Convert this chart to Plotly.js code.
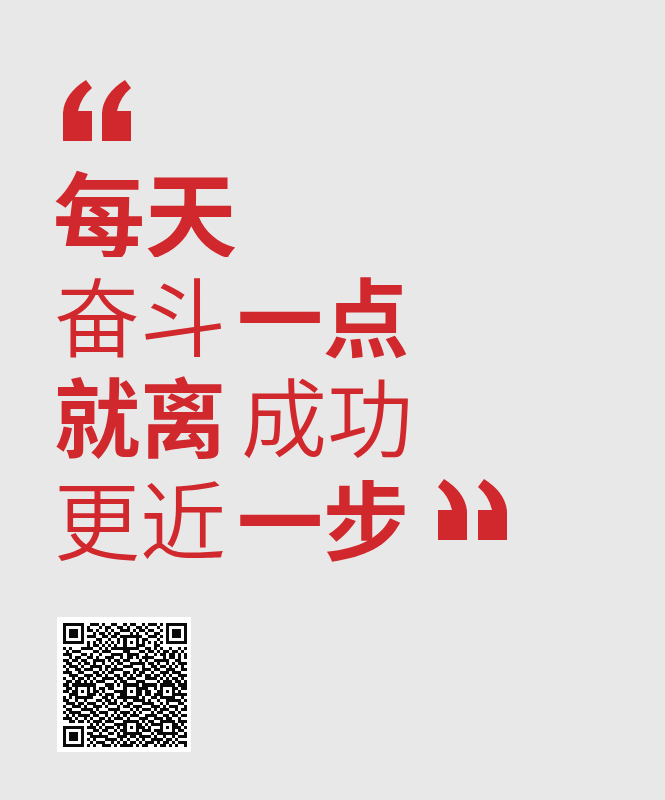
<!DOCTYPE html>
<html>
<head>
<meta charset="utf-8">
<script src="https://cdn.plot.ly/plotly-3.0.1.min.js"></script>
<style>html,body{margin:0;padding:0;background:#e8e8e8;}#chart{width:665px;height:800px;}</style>
</head>
<body>
<div id="chart"></div>
<script>
// ---- content (data) ----
const line1 = ["每天"];
const line2 = ["奋斗", "一点"];
const line3 = ["就离", "成功"];
const line4 = ["更近", "一步"];
const qrSize = 41;
const qrRows = [
"10110010011101001100101100101110100101101",
"01101101100010110011010011010001011010010",
"11000110110100101001110101101100110001011",
"00111011001011010110001010010011001110100",
"10010100111001101101100101001110110100110",
"01101011000110010010011010110001001011011",
"11010101011010101011001110011100110100100",
"00101110101101010100110001100011011011011",
"10100001110010101111001110011010100100101",
"01011110001101110000110001101101011011010",
"11100011010010001111011110010010110110101",
"00101110110100111001011010111100010110101",
"11011001001111010110110001010011111001100",
"01100111101001001011001111101101001010111",
"10111010011110110100111000100110110101010",
"01001101110010101111000110111011001110011",
"11100110001101011000110101100100111011100",
"00111011110110100110101011011011010100111",
"10010100101001111011011100011110101011010",
"01101111010111000101100011100001011101101",
"11010010111000111010011100111110110010111",
"01101110001011011000101101110010110011011",
"11010011101101000111001011011001011010100",
"00111010011010111001110001011011101001111",
"10100101110001101011011100100110110100010",
"11001011000110110100100111101001001111101",
"01110100111001011101011000111100101000110",
"10011101001110100010110111000111010111001",
"01100011110100011110001010111010111001011",
"10111100011011100101110101000101100110100",
"01010111101100101010101110011110011011011",
"11101001010011010111010001110011101100100",
"00110110101110111000101110101100010110111",
"11001010010101000111110001010111101001010",
"01101101111010111010001111101000110111101",
"10110010001101100101110100111011011000110",
"01011011110010011010011011000101101111001",
"11100100011111100011101101111010010010111",
"00011011101000111101010010100111101101000",
"11010110010111001010101101011101011010111",
"01101101101001110101111010110010110101001"
];

// ---- style / layout ----
const RED = "#d0282c";
const BG = "#e8e8e8";
const FONT = "Noto Sans CJK SC";
const FS = 86;

// build QR matrix from typed rows, then stamp the fixed QR structure
const z = [];
for (let r = 0; r < qrSize; r++) {
  const s = (qrRows[r] || "").padEnd(qrSize, "0");
  z.push(s.slice(0, qrSize).split("").map(Number));
}
function finder(r0, c0) {
  for (let r = -1; r <= 7; r++) for (let c = -1; c <= 7; c++) {
    const rr = r0 + r, cc = c0 + c;
    if (rr < 0 || cc < 0 || rr >= qrSize || cc >= qrSize) continue;
    let v = 0;
    if (r >= 0 && r <= 6 && c >= 0 && c <= 6) {
      v = (r === 0 || r === 6 || c === 0 || c === 6 || (r >= 2 && r <= 4 && c >= 2 && c <= 4)) ? 1 : 0;
    }
    z[rr][cc] = v;
  }
}
finder(0, 0); finder(0, qrSize - 7); finder(qrSize - 7, 0);
for (let i = 8; i < qrSize - 8; i++) { z[6][i] = i % 2 === 0 ? 1 : 0; z[i][6] = i % 2 === 0 ? 1 : 0; }
const alignC = [6, 22, 34];
alignC.forEach(ar => alignC.forEach(ac => {
  if ((ar === 6 && ac === 6) || (ar === 6 && ac === 34) || (ar === 34 && ac === 6)) return;
  for (let r = -2; r <= 2; r++) for (let c = -2; c <= 2; c++) {
    z[ar + r][ac + c] = (Math.max(Math.abs(r), Math.abs(c)) !== 1) ? 1 : 0;
  }
}));

const qrX0 = 63, qrY0 = 623, qrW = 124;
const cell = qrW / qrSize;

const trace = {
  type: "heatmap",
  z: z,
  x0: qrX0 + cell / 2, dx: cell,
  y0: qrY0 + cell / 2, dy: cell,
  colorscale: [[0, "#ffffff"], [1, "#0a0a0a"]],
  zmin: 0, zmax: 1,
  showscale: false,
  hoverinfo: "skip",
  zsmooth: false
};

// quote glyph outline relative to bottom outer corner
const quoteTpl = [[0,0],[0,-28],["Q",1,-47,23,-61],[29,-53],["Q",18,-44,15,-30],[29,-30],[29,0]];
function quotePath(ax, ay, mirror) {
  const m = mirror ? -1 : 1;
  let d = "";
  quoteTpl.forEach((p, i) => {
    if (p[0] === "Q") {
      d += " Q" + (ax + m * p[1]) + "," + (ay + p[2]) + " " + (ax + m * p[3]) + "," + (ay + p[4]);
    } else {
      d += (i === 0 ? "M" : " L") + (ax + m * p[0]) + "," + (ay + p[1]);
    }
  });
  return d + " Z";
}
const shapes = [
  {type: "rect", xref: "x", yref: "y", x0: 57, x1: 191, y0: 617, y1: 752, fillcolor: "#ffffff", line: {width: 0}, layer: "below"},
  {type: "path", path: quotePath(63, 141, false), fillcolor: RED, line: {width: 0}},
  {type: "path", path: quotePath(102, 141, false), fillcolor: RED, line: {width: 0}},
  {type: "path", path: quotePath(467, 540, true), fillcolor: RED, line: {width: 0}},
  {type: "path", path: quotePath(507, 540, true), fillcolor: RED, line: {width: 0}}
];

function ann(text, x, y, bold, size) {
  return {
    text: text, x: x, y: y, xref: "x", yref: "y",
    xanchor: "left", yanchor: "middle", showarrow: false,
    height: 96, valign: "middle",
    font: {family: FONT, size: size || FS, color: RED, weight: bold ? 700 : 350}
  };
}
const annotations = [
  ann(line1[0], 51, 209, true, 92),
  ann(line2[0], 52, 313, false),
  ann(line2[1], 235, 313, true),
  ann(line3[0], 52, 413, true),
  ann(line3[1], 239, 413, false),
  ann(line4[0], 52, 516, false),
  ann(line4[1], 235, 516, true)
];

const layout = {
  width: 665, height: 800,
  margin: {l: 0, r: 0, t: 0, b: 0, pad: 0},
  paper_bgcolor: BG, plot_bgcolor: BG,
  xaxis: {range: [0, 665], visible: false, fixedrange: true},
  yaxis: {range: [800, 0], visible: false, fixedrange: true},
  showlegend: false,
  shapes: shapes,
  annotations: annotations
};
Plotly.newPlot("chart", [trace], layout, {displayModeBar: false, staticPlot: true});
</script>
</body>
</html>
